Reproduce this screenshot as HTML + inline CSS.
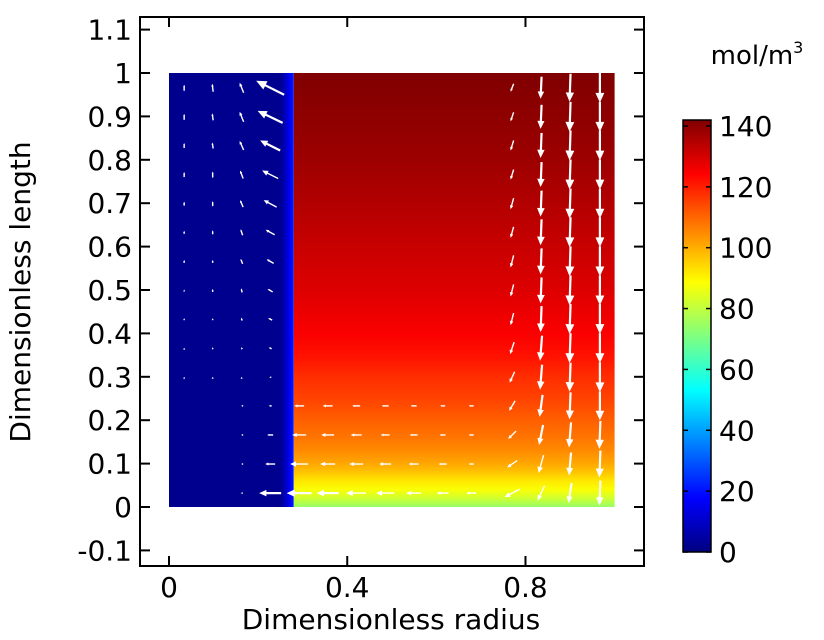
<!DOCTYPE html>
<html><head><meta charset="utf-8">
<style>
html,body{margin:0;padding:0;background:#fff;}
svg{display:block;font-family:"DejaVu Sans","Liberation Sans",sans-serif;}
</style></head>
<body>
<svg id="chart" width="824" height="640" viewBox="0 0 824 640">
<defs>
<linearGradient id="cbgrad" x1="0" y1="1" x2="0" y2="0">
<stop offset="0" stop-color="#000080"/><stop offset="0.125" stop-color="#0000ff"/><stop offset="0.375" stop-color="#00ffff"/><stop offset="0.625" stop-color="#ffff00"/><stop offset="0.875" stop-color="#ff0000"/><stop offset="1" stop-color="#800000"/>
</linearGradient>
</defs>
<g id="heat"></g>
<g id="arrows"></g>
<g id="axes"></g>
<rect x="683" y="120" width="28" height="432" fill="url(#cbgrad)" stroke="#000" stroke-width="1.5"/>
<g id="cbticks"></g>
<text x="757" y="64" font-size="26" text-anchor="middle">mol/m<tspan font-size="16" dy="-11">3</tspan></text>
<text x="391" y="629" font-size="28" text-anchor="middle">Dimensionless radius</text>
<text transform="translate(30,292) rotate(-90)" font-size="28" text-anchor="middle">Dimensionless length</text>
</svg>
<script>
const xTicks=[0,0.4,0.8];
const xTickLabels=["0","0.4","0.8"];
const yTicks=[-0.1,0,0.1,0.2,0.3,0.4,0.5,0.6,0.7,0.8,0.9,1,1.1];
const yTickLabels=["-0.1","0","0.1","0.2","0.3","0.4","0.5","0.6","0.7","0.8","0.9","1","1.1"];
const cbTicks=[0,20,40,60,80,100,120,140];
const boundaryR=0.28;
const rightZ=[0,0.02,0.04,0.06,0.08,0.1,0.13,0.16,0.2,0.25,0.3,0.35,0.4,0.5,0.6,0.7,0.8,0.9,1];
const rightVals=[74,82,88,92,97,101,105,108,111,115,118,122,125,129,132,135,138,140,142];
const leftR=[0,0.25,0.26,0.27,0.28];
const leftVals=[2,2,8,16,22];
const arrowR=[0.034,0.098,0.163,0.227,0.292,0.356,0.42,0.485,0.549,0.614,0.678,0.77,0.835,0.9,0.967];
const arrowZ=[0.966,0.899,0.833,0.766,0.699,0.633,0.566,0.499,0.433,0.366,0.299,0.233,0.166,0.099,0.032];
const arrowU=[
[0,-1,-4,-28,0,0,0,0,0,0,0,-3,-1,-1,0],
[0,-1,-4,-25,0,0,0,0,0,0,0,-3,-1,-1,0],
[0,-1,-4,-20,0,0,0,0,0,0,0,-3,-1,-1,0],
[0,0,-3,-16,0,0,0,0,0,0,0,-3,-1,-1,0],
[0,0,-3,-13,0,0,0,0,0,0,0,-3,-1,-1,0],
[0,0,-2,-9,0,0,0,0,0,0,0,-3,-1,-1,0],
[0,0,-2,-7,0,0,0,0,0,0,0,-3,-1,-1,0],
[0,0,-1,-5,0,0,0,0,0,0,0,-3,-1,-1,0],
[0,0,-1,-4,0,0,0,0,0,0,0,-3,-1,-1,0],
[0,0,-1,-3,0,0,0,0,0,0,0,-4,-2,-1,0],
[0,0,0,-2,0,0,0,0,0,0,0,-5,-2,-1,0],
[0,0,-1,-3,-10,-10,-8,-7,-6,-5,-5,-6,-3,-1,0],
[0,0,-1,-6,-14,-13,-11,-9,-8,-6,-5,-8,-4,-2,-1],
[0,0,-1,-10,-18,-15,-14,-12,-10,-8,-5,-10,-5,-2,-1],
[0,0,-2,-22,-25,-22,-20,-18,-15,-12,-10,-15,-7,-3,-1]];
const arrowW=[
[6,8,10,14,0,0,0,0,0,0,0,-8,-22,-28,-30],
[6,7,10,12,0,0,0,0,0,0,0,-9,-24,-30,-30],
[5,6,9,10,0,0,0,0,0,0,0,-10,-25,-30,-30],
[5,6,8,8,0,0,0,0,0,0,0,-10,-25,-30,-30],
[4,5,7,7,0,0,0,0,0,0,0,-11,-26,-30,-30],
[3,4,6,5,0,0,0,0,0,0,0,-11,-26,-30,-30],
[3,3,5,4,0,0,0,0,0,0,0,-12,-26,-30,-30],
[2,3,4,3,0,0,0,0,0,0,0,-12,-26,-30,-30],
[2,2,3,2,0,0,0,0,0,0,0,-12,-26,-30,-30],
[1,2,2,1,0,0,0,0,0,0,0,-12,-25,-30,-30],
[1,1,1,0,0,0,0,0,0,0,0,-11,-25,-29,-30],
[0,0,0,0,0,0,0,0,0,0,0,-10,-22,-27,-29],
[0,0,0,0,0,0,0,0,0,0,0,-8,-20,-25,-28],
[0,0,0,0,0,0,0,0,0,0,0,-7,-18,-23,-27],
[0,0,0,0,0,0,0,0,0,0,0,-8,-15,-20,-25]];

const NS="http://www.w3.org/2000/svg";
const X0=169,XS=445.6,Y0=507,YS=434;
const CB0=552,CBS=3.043,CBMAX=142;
function sx(r){return X0+r*XS;}
function sy(z){return Y0-z*YS;}
function cby(v){return CB0-v*CBS;}
function jet(v){
  const t=Math.max(0,Math.min(1,v/CBMAX));
  const st=[[0,0,0,128],[0.125,0,0,255],[0.375,0,255,255],[0.625,255,255,0],[0.875,255,0,0],[1,128,0,0]];
  for(let i=1;i<st.length;i++){if(t<=st[i][0]){const a=st[i-1],b=st[i],f=(t-a[0])/(b[0]-a[0]);
    return `rgb(${Math.round(a[1]+f*(b[1]-a[1]))},${Math.round(a[2]+f*(b[2]-a[2]))},${Math.round(a[3]+f*(b[3]-a[3]))})`;}}
  return "rgb(128,0,0)";
}
function mk(tag,attrs,parent){const e=document.createElementNS(NS,tag);for(const k in attrs)e.setAttribute(k,attrs[k]);parent.appendChild(e);return e;}
const heat=document.getElementById('heat');
const gR=mk('linearGradient',{id:'rg',x1:0,y1:1,x2:0,y2:0},document.querySelector('defs'));
rightZ.forEach((z,i)=>mk('stop',{offset:z,'stop-color':jet(rightVals[i])},gR));
const gL=mk('linearGradient',{id:'lg',x1:0,y1:0,x2:1,y2:0},document.querySelector('defs'));
leftR.forEach((r,i)=>mk('stop',{offset:r/boundaryR,'stop-color':jet(leftVals[i])},gL));
let lr=mk('rect',{x:sx(0),y:sy(1),width:sx(boundaryR)-sx(0),height:sy(0)-sy(1),fill:'url(#lg)'},heat);


let rr=mk('rect',{x:sx(boundaryR),y:sy(1),width:sx(1)-sx(boundaryR),height:sy(0)-sy(1),fill:'url(#rg)'},heat);


const ag=document.getElementById('arrows');
arrowZ.forEach((z,i)=>arrowR.forEach((r,j)=>{
  const u=arrowU[i][j],w=arrowW[i][j];const L=Math.hypot(u,w);if(L<1)return;
  const cx=sx(r),cy=sy(z),dx=u,dy=-w;
  const x1=cx-dx/2,y1=cy-dy/2,x2=cx+dx/2,y2=cy+dy/2;
  const ux=dx/L,uy=dy/L,h=Math.max(2,L*0.33),hw=h*0.45;
  const g=mk('g',{},ag);
  
  
  const sw=L>20?2.2:1.4;
  mk('line',{x1:x1,y1:y1,x2:x2-ux*h*0.8,y2:y2-uy*h*0.8,stroke:'#fff','stroke-width':sw},g);
  mk('polygon',{points:`${x2},${y2} ${x2-ux*h-uy*hw},${y2-uy*h+ux*hw} ${x2-ux*h+uy*hw},${y2-uy*h-ux*hw}`,fill:'#fff'},g);
}));
const ax=document.getElementById('axes');
const fr=mk('rect',{x:140,y:17,width:504,height:549,fill:'none',stroke:'#000','stroke-width':2},ax);


xTicks.forEach((v,i)=>{const x=sx(v);
  mk('line',{x1:x,y1:566,x2:x,y2:556,stroke:'#000','stroke-width':2},ax);
  mk('line',{x1:x,y1:17,x2:x,y2:27,stroke:'#000','stroke-width':2},ax);
  const t=mk('text',{x:x,y:597,'font-size':28,'text-anchor':'middle'},ax);t.textContent=xTickLabels[i];
  
  });
yTicks.forEach((v,i)=>{const y=sy(v);
  mk('line',{x1:140,y1:y,x2:150,y2:y,stroke:'#000','stroke-width':2},ax);
  mk('line',{x1:644,y1:y,x2:634,y2:y,stroke:'#000','stroke-width':2},ax);
  const t=mk('text',{x:132,y:y+10,'font-size':28,'text-anchor':'end'},ax);t.textContent=yTickLabels[i];
  
  });
const cb=document.getElementById('cbticks');
cbTicks.forEach(v=>{const y=cby(v);
  mk('line',{x1:683,y1:y,x2:688,y2:y,stroke:'#000','stroke-width':1.5},cb);
  mk('line',{x1:711,y1:y,x2:706,y2:y,stroke:'#000','stroke-width':1.5},cb);
  const t=mk('text',{x:719,y:y+10,'font-size':28},cb);t.textContent=String(v);
  
  });
</script>
</body></html>
